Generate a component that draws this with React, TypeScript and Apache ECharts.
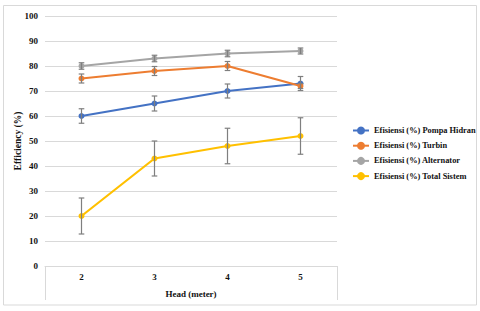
import React, { useEffect, useRef } from "react";
import * as echarts from "echarts";

const categories = ["2", "3", "4", "5"];
const seriesNames = [
  "Efisiensi (%) Pompa Hidran",
  "Efisiensi (%) Turbin",
  "Efisiensi (%) Alternator",
  "Efisiensi (%) Total Sistem",
];
const colors = ["#4472C4", "#ED7D31", "#A5A5A5", "#FFC000"];
const pompaHidran = [60, 65, 70, 73];
const turbin = [75, 78, 80, 72];
const alternator = [80, 83, 85, 86];
const totalSistem = [20, 43, 48, 52];
const pompaErr = [2.9, 3, 2.8, 2.8];
const turbinErr = [1.8, 1.8, 1.8, 1];
const alternatorErr = [1.3, 1.3, 1.3, 1.2];
const totalErr = [7.2, 7, 7.1, 7.3];
const yTicks = { min: 0, max: 100, interval: 10 };

const FONT = "Liberation Serif";

export default function App() {
  const ref = useRef<HTMLDivElement>(null);
  useEffect(() => {
    document.body.style.margin = "0";
    const chart = echarts.init(ref.current!, undefined, { renderer: "svg" });
    const values = [pompaHidran, turbin, alternator, totalSistem];
    const errs = [pompaErr, turbinErr, alternatorErr, totalErr];
    const lineSeries = values.map((v, i) => ({
      name: seriesNames[i],
      type: "line",
      data: v,
      symbol: "circle",
      symbolSize: 6,
      lineStyle: { width: 2.2, color: colors[i] },
      itemStyle: { color: colors[i] },
      z: 2,
    }));
    const errSeries = values.map((v, i) => ({
      type: "custom",
      name: "err" + i,
      data: v.map((val, j) => [j, val - errs[i][j], val + errs[i][j]]),
      z: 3,
      silent: true,
      renderItem: (params: any, api: any) => {
        const x = api.value(0);
        const lo = api.coord([x, api.value(1)]);
        const hi = api.coord([x, api.value(2)]);
        const cap = 2.8;
        const style = { stroke: "#7F7F7F", lineWidth: 1.2 };
        return {
          type: "group",
          children: [
            { type: "line", shape: { x1: lo[0], y1: lo[1], x2: hi[0], y2: hi[1] }, style },
            { type: "line", shape: { x1: lo[0] - cap, y1: lo[1], x2: lo[0] + cap, y2: lo[1] }, style },
            { type: "line", shape: { x1: hi[0] - cap, y1: hi[1], x2: hi[0] + cap, y2: hi[1] }, style },
          ],
        };
      },
    }));
    chart.setOption({
      animation: false,
      textStyle: { fontFamily: FONT },
      grid: { left: 45, right: 143, top: 16, bottom: 45, outerBoundsMode: "none", containLabel: false },
      graphic: [
        {
          type: "rect",
          shape: { x: 3.5, y: 5.5, width: 473, height: 299.5 },
          style: { fill: "none", stroke: "#D9D9D9", lineWidth: 1 },
          z: -1,
        },
        {
          type: "line",
          shape: { x1: 45.5, y1: 266, x2: 45.5, y2: 300 },
          style: { stroke: "#D9D9D9", lineWidth: 1 },
        },
        {
          type: "line",
          shape: { x1: 337.5, y1: 266, x2: 337.5, y2: 300 },
          style: { stroke: "#D9D9D9", lineWidth: 1 },
        },
      ],
      legend: {
        data: seriesNames,
        orient: "vertical",
        left: 347,
        top: 121.5,
        itemWidth: 16,
        itemHeight: 10,
        itemGap: 7.2,
        textStyle: { fontFamily: FONT, fontWeight: "bold", fontSize: 8.4, color: "#111" },
      },
      xAxis: {
        type: "category",
        data: categories,
        boundaryGap: true,
        axisLine: { lineStyle: { color: "#D9D9D9" } },
        axisTick: { show: false },
        axisLabel: { fontFamily: FONT, fontWeight: "bold", fontSize: 9, color: "#111", margin: 6 },
        name: "Head (meter)",
        nameLocation: "middle",
        nameGap: 23,
        nameMoveOverlap: false,
        nameTextStyle: { fontFamily: FONT, fontWeight: "bold", fontSize: 9, color: "#111" },
      },
      yAxis: {
        type: "value",
        min: yTicks.min,
        max: yTicks.max,
        interval: yTicks.interval,
        axisLine: { show: false },
        axisTick: { show: false },
        splitLine: { lineStyle: { color: "#D9D9D9" } },
        axisLabel: { fontFamily: FONT, fontWeight: "bold", fontSize: 9, color: "#111", margin: 7 },
        name: "Efficiency (%)",
        nameLocation: "middle",
        nameGap: 22,
        nameMoveOverlap: false,
        nameRotate: 90,
        nameTextStyle: { fontFamily: FONT, fontWeight: "bold", fontSize: 9.5, color: "#111" },
      },
      series: [...lineSeries, ...errSeries],
    });
    return () => chart.dispose();
  }, []);
  return <div ref={ref} style={{ width: 480, height: 311 }} />;
}
